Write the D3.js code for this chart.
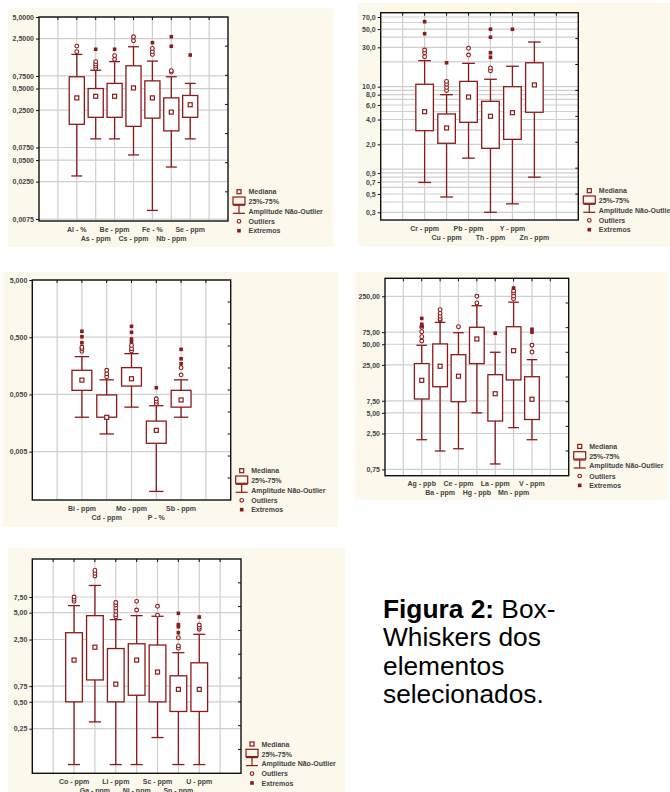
<!DOCTYPE html>
<html><head><meta charset="utf-8">
<script src="https://cdn.jsdelivr.net/npm/d3@7"></script>
<style>body{margin:0;background:#fff;} svg{display:block}</style>
</head><body>
<svg id="c" width="670" height="792"></svg>
<script>
// ---------- Panel 1 ----------
const p1Cats = ["Al - %","As - ppm","Be - ppm","Cs - ppm","Fe - %","Nb - ppm","Se - ppm"];
const p1Min = [0.030, 0.099, 0.099, 0.059, 0.0099, 0.040, 0.099];
const p1Q1  = [0.158, 0.198, 0.198, 0.148, 0.193, 0.128, 0.198];
const p1Med = [0.37, 0.39, 0.39, 0.51, 0.37, 0.234, 0.297];
const p1Q3  = [0.73, 0.50, 0.59, 1.04, 0.64, 0.37, 0.40];
const p1Max = [1.50, 0.90, 1.19, 1.92, 1.21, 0.73, 0.59];
const p1Out = [[1.64,1.96],[0.96,1.03,1.10,1.19],[1.28,1.44],[2.33,2.65],[1.50,1.64,1.82],[0.85,0.89],[]];
const p1Ext = [[],[1.77],[1.77],[],[2.19],[1.95,2.65],[1.47]];
const p1Ticks = [5, 2.5, 0.75, 0.5, 0.25, 0.075, 0.05, 0.025, 0.0075];

// ---------- Panel 2 ----------
const p2Cats = ["Cr - ppm","Cu - ppm","Pb - ppm","Th - ppm","Y - ppm","Zn - ppm"];
const p2Min = [0.69, 0.46, 1.36, 0.30, 0.38, 0.80];
const p2Q1  = [2.93, 2.06, 3.7, 1.79, 2.30, 4.9];
const p2Med = [4.98, 3.16, 7.5, 4.38, 4.84, 10.5];
const p2Q3  = [10.7, 4.67, 11.6, 6.65, 10.0, 19.5];
const p2Max = [20.7, 8.0, 19.2, 12.3, 17.7, 34.8];
const p2Out = [[23.1,25.8,27.8],[9.0,9.8,10.7,11.6],[24.2,29.2],[15.6,16.9],[],[]];
const p2Ext = [[43.9,61.4],[19.5],[],[22.7,25.8,39.8,49.7],[49.7],[]];
const p2Ticks = [70,50,30,10,8,6,4,2,0.9,0.7,0.5,0.3];
const p2Grid = [0.3,0.4,0.5,0.6,0.7,0.8,0.9,1,2,3,4,5,6,7,8,9,10,20,30,40,50,60,70];

// ---------- Panel 3 ----------
const p3Cats = ["Bi - ppm","Cd - ppm","Mo - ppm","P - %","Sb - ppm"];
const p3Min = [0.020, 0.0102, 0.030, 0.00101, 0.020];
const p3Q1  = [0.059, 0.020, 0.070, 0.0070, 0.030];
const p3Med = [0.089, 0.0199, 0.094, 0.0118, 0.040];
const p3Q3  = [0.132, 0.049, 0.147, 0.0171, 0.059];
const p3Max = [0.229, 0.090, 0.258, 0.0318, 0.090];
const p3Out = [[0.283,0.311,0.333],[0.102,0.115,0.132],[0.287,0.315,0.36],[0.0344,0.0379,0.042],[0.110,0.147]];
const p3Ext = [[0.40,0.51,0.634],[],[0.412,0.465,0.61,0.775],[0.0655],[0.172,0.21,0.307]];
const p3Ticks = [5, 0.5, 0.05, 0.005];

// ---------- Panel 4 ----------
const p4Cats = ["Ag - ppb","Ba - ppm","Ce - ppm","Hg - ppb","La - ppm","Mn - ppm","V - ppm"];
const p4Min = [2.03, 1.39, 1.50, 5.0, 0.90, 3.04, 2.03];
const p4Q1  = [7.96, 12.0, 7.27, 26.1, 3.8, 15.1, 4.0];
const p4Med = [14.9, 23.9, 17.1, 59.7, 9.5, 40.3, 7.9];
const p4Q3  = [26.1, 50.5, 35.2, 88.3, 18.0, 90, 16.8];
const p4Max = [48.3, 104, 73.6, 182, 38.2, 205, 29.8];
const p4Out = [[55.7,64.4,76.2,88.3],[113,118,128,141,160],[90],[200,250],[],[231,252,280,300],[38.5,48.3]];
const p4Ext = [[92,97.7,119],[],[],[],[72.3],[330],[75,82.6]];
const p4Ticks = [250,75,50,25,7.5,5,2.5,0.75];

// ---------- Panel 5 ----------
const p5Cats = ["Co - ppm","Ga - ppm","Li - ppm","Ni - ppm","Sc - ppm","Sn - ppm","U - ppm"];
const p5Min = [0.099, 0.298, 0.099, 0.099, 0.199, 0.099, 0.099];
const p5Q1  = [0.50, 0.88, 0.50, 0.593, 0.50, 0.39, 0.39];
const p5Med = [1.47, 2.05, 0.79, 1.47, 1.08, 0.69, 0.69];
const p5Q3  = [2.98, 4.63, 1.98, 2.24, 2.17, 0.98, 1.37];
const p5Max = [6.0, 10.1, 4.18, 4.63, 4.56, 1.78, 2.86];
const p5Out = [[6.7,7.06,7.5],[12.9,13.8,14.9],[4.5,4.75,5.2,5.65,6.1,6.5],[5.36,6.7],[4.7,5.9],[2.0,2.12,2.62],[3.26,3.43,3.64]];
const p5Ext = [[],[],[],[],[],[2.98,3.48,3.67,4.92],[4.47]];
const p5Ticks = [7.5,5,2.5,0.75,0.5,0.25];

const legendLabels = ["Mediana","25%-75%","Amplitude Não-Outlier","Outliers","Extremos"];
const caption = [["Figura 2:", " Box-"],["","Whiskers dos"],["","elementos"],["","selecionados."]];

const svg = d3.select("#c");
const RED = "#8b1a1a";
const FONT = "'Liberation Sans', Arial, sans-serif";
const BG = "#fcf8ec";

function drawPanel(L, D) {
  const g = svg.append("g");
  g.append("rect").attr("x", L.bg[0]).attr("y", L.bg[1])
    .attr("width", L.bg[2]-L.bg[0]).attr("height", L.bg[3]-L.bg[1]).attr("fill", BG);
  const [x0,y0,x1,y1] = L.plot;
  g.append("rect").attr("x",x0).attr("y",y0).attr("width",x1-x0).attr("height",y1-y0).attr("fill","#fff");
  const n = D.cats.length;
  const x = d3.scaleLinear().domain([0, n+3]).range([x0, x1]);
  const y = d3.scaleLog().domain(L.domain).range([y1, y0]);
  const band = x(1)-x(0);
  const bw = band*0.8, cw = band*0.58;
  const pos = i => x(i+2);
  const fmt = v => d3.format(L.fmt)(v).replace(".", ",");

  // grid
  const grid = g.append("g").attr("stroke","#cfcfcf").attr("stroke-width",1.2);
  d3.range(1, n+3).forEach(k => grid.append("line").attr("x1",x(k)).attr("x2",x(k)).attr("y1",y0).attr("y2",y1));
  (D.grid || D.ticks).forEach(v => grid.append("line").attr("x1",x0).attr("x2",x1).attr("y1",y(v)).attr("y2",y(v)));

  // boxes
  const b = g.append("g").attr("stroke", RED).attr("stroke-width",1.3);
  D.cats.forEach((c,i) => {
    const cx = pos(i);
    b.append("line").attr("x1",cx).attr("x2",cx).attr("y1",y(D.min[i])).attr("y2",y(D.max[i]));
    b.append("line").attr("x1",cx-cw/2).attr("x2",cx+cw/2).attr("y1",y(D.min[i])).attr("y2",y(D.min[i]));
    b.append("line").attr("x1",cx-cw/2).attr("x2",cx+cw/2).attr("y1",y(D.max[i])).attr("y2",y(D.max[i]));
    b.append("rect").attr("x",cx-bw/2).attr("y",y(D.q3[i])).attr("width",bw)
      .attr("height",y(D.q1[i])-y(D.q3[i])).attr("fill","#fff");
    b.append("rect").attr("x",cx-2).attr("y",y(D.med[i])-2).attr("width",4).attr("height",4).attr("fill","#fff").attr("stroke-width",1.2);
    D.out[i].forEach(v => b.append("circle").attr("cx",cx).attr("cy",y(v)).attr("r",1.9).attr("fill","#fff").attr("stroke-width",1.1));
    D.ext[i].forEach(v => b.append("rect").attr("x",cx-1.8).attr("y",y(v)-1.8).attr("width",3.6).attr("height",3.6).attr("fill",RED).attr("stroke","none"));
  });

  // frame
  g.append("rect").attr("x",x0).attr("y",y0).attr("width",x1-x0).attr("height",y1-y0)
    .attr("fill","none").attr("stroke","#111").attr("stroke-width",1.4);
  // right minor ticks
  d3.range(1, L.rt).forEach(k => {
    const yy = y0 + k*(y1-y0)/L.rt;
    g.append("line").attr("x1",x1-3).attr("x2",x1).attr("y1",yy).attr("y2",yy).attr("stroke","#111");
  });
  // top ticks
  d3.range(1, n+3).forEach(k => g.append("line").attr("x1",x(k)).attr("x2",x(k)).attr("y1",y0).attr("y2",y0+3).attr("stroke","#111"));

  // left axis
  const ax = g.append("g").attr("transform",`translate(${x0},0)`)
    .call(d3.axisLeft(y).tickValues(D.ticks).tickFormat(fmt).tickSize(3).tickPadding(2));
  ax.select(".domain").remove();
  ax.selectAll("line").attr("stroke","#111");
  ax.selectAll("text").attr("font-family",FONT).attr("font-size",7).attr("font-weight","bold").attr("fill","#444");

  // x labels
  D.cats.forEach((c,i) => {
    g.append("text").attr("x",pos(i)).attr("y", y1 + (i%2===0 ? 8 : 17) + 2.5)
      .attr("text-anchor","middle").attr("font-family",FONT).attr("font-size",7)
      .attr("font-weight","bold").attr("fill","#444").text(c);
  });

  // legend
  const mx = x1 + 11, yb = y1;
  const lg = g.append("g");
  lg.append("rect").attr("x",mx-2).attr("y",yb-29.3-2).attr("width",4).attr("height",4).attr("fill","none").attr("stroke",RED).attr("stroke-width",1.2);
  lg.append("rect").attr("x",mx-6).attr("y",yb-24).attr("width",12).attr("height",7.3).attr("fill","none").attr("stroke",RED).attr("stroke-width",1.2);
  lg.append("line").attr("x1",mx-6).attr("x2",mx+6).attr("y1",yb-15.7).attr("y2",yb-15.7).attr("stroke",RED).attr("stroke-width",1.2);
  lg.append("line").attr("x1",mx).attr("x2",mx).attr("y1",yb-15.7).attr("y2",yb-7.7).attr("stroke",RED).attr("stroke-width",1.2);
  lg.append("line").attr("x1",mx-6).attr("x2",mx+6).attr("y1",yb-7.7).attr("y2",yb-7.7).attr("stroke",RED).attr("stroke-width",1.2);
  lg.append("circle").attr("cx",mx).attr("cy",yb+0.3).attr("r",1.8).attr("fill","none").attr("stroke",RED).attr("stroke-width",1.1);
  lg.append("rect").attr("x",mx-1.8).attr("y",yb+9.7-1.8).attr("width",3.6).attr("height",3.6).attr("fill",RED);
  const rows = [-29.3,-19.3,-10,0.3,9.7];
  legendLabels.forEach((t,k) => lg.append("text").attr("x",mx+9.5).attr("y",yb+rows[k]+2.5)
    .attr("font-family",FONT).attr("font-size",7).attr("font-weight","bold").attr("fill","#444").text(t));
}

const panels = [
  [{bg:[8,8,333,247], plot:[39,17,228,221], domain:[0.00704,5], fmt:".4f", rt:7},
   {cats:p1Cats,min:p1Min,q1:p1Q1,med:p1Med,q3:p1Q3,max:p1Max,out:p1Out,ext:p1Ext,ticks:p1Ticks}],
  [{bg:[358,3,670,246], plot:[380.7,12.7,578.3,220], domain:[0.242,78.9], fmt:".1f", rt:8},
   {cats:p2Cats,min:p2Min,q1:p2Q1,med:p2Med,q3:p2Q3,max:p2Max,out:p2Out,ext:p2Ext,ticks:p2Ticks,grid:p2Grid}],
  [{bg:[3,272,338,527], plot:[32.3,280,230.7,500], domain:[0.000715,5], fmt:".3f", rt:10},
   {cats:p3Cats,min:p3Min,q1:p3Q1,med:p3Med,q3:p3Q3,max:p3Max,out:p3Out,ext:p3Ext,ticks:p3Ticks}],
  [{bg:[355,272,668,500], plot:[385,278.3,568.7,475.7], domain:[0.607,457], fmt:".2f", rt:8},
   {cats:p4Cats,min:p4Min,q1:p4Q1,med:p4Med,q3:p4Q3,max:p4Max,out:p4Out,ext:p4Ext,ticks:p4Ticks}],
  [{bg:[8,548,345,792], plot:[32.3,559,241,773.3], domain:[0.079,20], fmt:".2f", rt:9},
   {cats:p5Cats,min:p5Min,q1:p5Q1,med:p5Med,q3:p5Q3,max:p5Max,out:p5Out,ext:p5Ext,ticks:p5Ticks}]
];
panels.forEach(([L,D]) => drawPanel(L,D));

// caption
caption.forEach((ln,k) => {
  const t = svg.append("text").attr("x",383).attr("y",618 + k*28.4)
    .attr("font-family",FONT).attr("font-size",26.3).attr("fill","#000");
  if (ln[0]) t.append("tspan").attr("font-weight","bold").text(ln[0]);
  t.append("tspan").text(ln[1]);
});
</script>
</body></html>
